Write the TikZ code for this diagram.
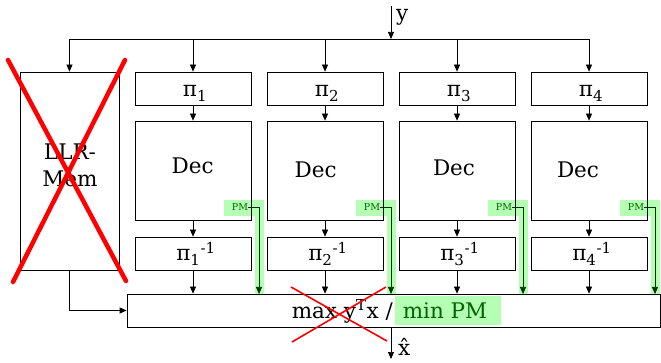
\documentclass[tikz,border=0pt]{standalone}
\usepackage{fontspec}
\setmainfont{DejaVu Serif}
\usetikzlibrary{arrows.meta}
\definecolor{pmgreen}{RGB}{180,255,180}
\definecolor{pmdark}{RGB}{0,100,0}
\definecolor{pmline}{RGB}{0,50,0}
\begin{document}
\begin{tikzpicture}[x=1pt,y=-1pt,
 box/.style={draw, line width=0.7pt, inner sep=0pt, minimum width=116pt},
 arr/.style={-{Triangle[length=7pt,width=6pt]}, line width=0.7pt},
 lbl/.style={anchor=base, inner sep=0pt, font=\fontsize{21.5}{25}\selectfont},
 pmlbl/.style={inner sep=0pt, font=\fontsize{9.5}{10}\selectfont, text=pmdark},
 bigx/.style={red, line width=4.5pt, line cap=round},
 smallx/.style={red, line width=1.6pt},
]
\useasboundingbox (0,0) rectangle (661,363);
% green highlights
\foreach \c in {193,325,457,589}{
  \fill[pmgreen] ({\c+31},200) rectangle ({\c+71},216);
  \fill[pmgreen] ({\c+62},200) rectangle ({\c+71},294);
}
\fill[pmgreen] (395,296) rectangle (501,325);

% LLR memory
\node[box, minimum width=99pt, minimum height=198pt] (llr) at (69.5,171) {};
\node[lbl] (llrt1) at (70,160) {LLR-};
\node[lbl] (llrt2) at (70,187) {Mem};

% bottom box
\node[draw, line width=0.7pt, minimum width=533pt, minimum height=33pt, inner sep=0pt] (bot) at (393.5,310.5) {};
\node[lbl, anchor=base east] (maxt) at (393,318) {max y\textsuperscript{T}x /};
\node[lbl, text=pmdark] (mint) at (445,318) {min PM};

% input
\coordinate (yin) at (391,6);
\coordinate (split) at (391,39);
\draw[arr] (yin) -- (split);
\node[lbl, anchor=base west] (ylbl) at (396,21) {y};

\foreach \i/\c/\dx/\dy in {1/193/192.7/174,2/325/315.7/177.7,3/457/454/176,4/589/578/177.3}{
  \node[box, minimum height=33pt] (p\i) at (\c,88.5) {};
  \node[box, minimum height=99pt] (d\i) at (\c,170.5) {};
  \node[box, minimum height=33pt] (q\i) at (\c,253.5) {};
  \node[lbl] (pt\i) at ({\c+2},97) {π\textsubscript{\i}};
  \node[lbl] (qt\i) at ({\c+3},261) {π\textsubscript{\i}\textsuperscript{-1}};
  \node[lbl] (dt\i) at (\dx,\dy) {Dec};
  \node[pmlbl] (pm\i) at ({\c+47},207) {PM};
  \coordinate (pmend\i) at ({\c+66},294);
  \draw[arr] (p\i.north |- split) -- (p\i.north);
  \draw[arr] (p\i) -- (d\i);
  \draw[arr] (d\i) -- (q\i);
  \draw[arr] (q\i) -- (q\i.south |- bot.north);
  \draw[arr, pmline] (pm\i.east) -| (pmend\i);
}
\draw[line width=0.7pt] (llr.north |- split) -- (p4.north |- split);
\draw[arr] (llr.north |- split) -- (llr.north);
\draw[arr] (llr.south) |- (bot.west);

% output
\coordinate (xout) at (391,359);
\draw[arr] (bot.south -| xout) -- (xout);
\node[lbl, anchor=base west] (xlbl) at (398,355) {\^{x}};

% red crosses
\draw[bigx] (8,60) -- (126,281);
\draw[bigx] (125,60) -- (13,282);
\draw[smallx] (291,287) -- (387,341);
\draw[smallx] (292,342) -- (386,287);
\end{tikzpicture}
\end{document}
